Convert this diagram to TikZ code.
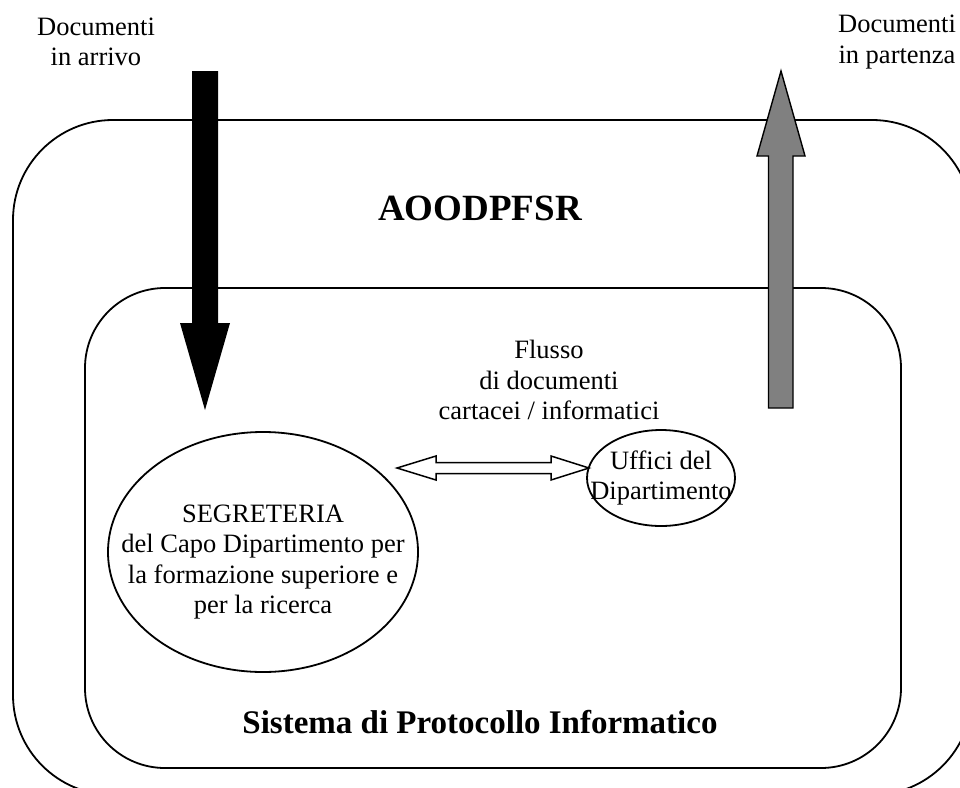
\documentclass[tikz,border=0pt]{standalone}
\usepackage{fontspec}
\setmainfont{Liberation Serif}
\usetikzlibrary{shapes.geometric}
\begin{document}
\begin{tikzpicture}[x=1pt,y=-1pt,
  outline/.style={draw=black,line width=1.8pt},
  lbl/.style={align=center,inner sep=0pt,font=\fontsize{26.5}{30.5}\selectfont},
  title/.style={align=center,inner sep=0pt,font=\bfseries\fontsize{37}{40}\selectfont},
  caption/.style={align=center,inner sep=0pt,font=\bfseries\fontsize{33}{36}\selectfont},
  office/.style={ellipse,outline,inner sep=0pt}]
\useasboundingbox (0,0) rectangle (960,787);

% outer domain (AOO) and inner protocol system
\draw[outline,rounded corners=100pt] (13,120) rectangle (972,795);
\draw[outline,rounded corners=80pt] (85,288) rectangle (901,768);

% incoming documents: black block arrow
\fill[black] (192,71) -- (218,71) -- (218,323) -- (230,323) -- (205,410)
  -- (180,323) -- (192,323) -- cycle;
% outgoing documents: grey block arrow
\filldraw[fill=black!50,draw=black,line width=1.4pt] (768.5,408) -- (793,408) -- (793,156) -- (805,156)
  -- (781,71) -- (757,156) -- (768.5,156) -- cycle;

% offices
\node[office,minimum width=310pt,minimum height=240pt] (seg) at (263,552) {};
\node[office,minimum width=148pt,minimum height=96pt] (uff) at (661,478) {};

% two-way document exchange
\coordinate (dl) at (397,468);
\coordinate (dr) at (589,468);
\draw[outline,line width=1.5pt,fill=white,line join=miter]
  (dl) -- ++(39,-12) -- ++(0,6.5) -- ++(115,0) -- ++(0,-6.5) -- (dr)
  -- ++(-38,12) -- ++(0,-6.5) -- ++(-115,0) -- ++(0,6.5) -- cycle;

% texts
\node[lbl] (in) at (96,42) {Documenti\\in arrivo};
\node[lbl] (out) at (897,42) {Documenti\\in partenza};
\node[title] (aoo) at (480,208) {AOODPFSR};
\node[lbl] (flow) at (549,380) {Flusso\\di documenti\\cartacei / informatici};
\node[lbl] (segtext) at ([yshift=-10pt]seg.center) {SEGRETERIA\\del Capo Dipartimento per\\la formazione superiore e\\per la ricerca};
\node[lbl] (ufftext) at (uff) {Uffici del\\Dipartimento};
\node[caption] (sys) at (480,722) {Sistema di Protocollo Informatico};
\end{tikzpicture}
\end{document}
